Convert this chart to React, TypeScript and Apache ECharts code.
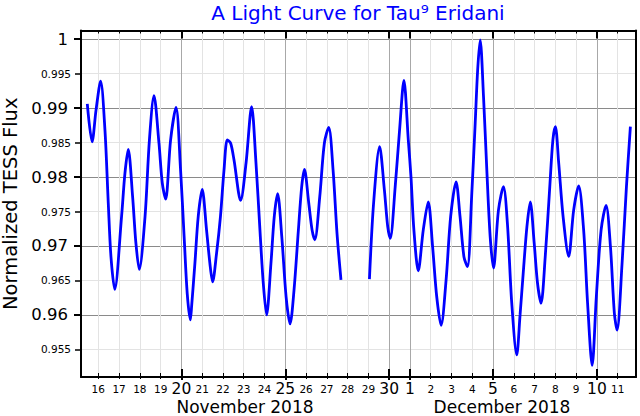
import React, { useEffect, useRef } from "react";
import * as echarts from "echarts";

// Time in days counted from 0 November 2018 (Nov 30 = 30, Dec 1 = 31, Dec 11 = 41)
const dayTimes: number[] = [
  15.47, 15.7, 15.89, 16.11, 16.32, 16.48, 16.61, 16.79, 17.12, 17.28, 17.44, 17.65, 17.81, 17.97,
  18.25, 18.46, 18.68, 18.92, 19.08, 19.24, 19.48, 19.74, 19.96, 20.13, 20.28, 20.43, 20.49, 20.65,
  20.81, 21.0, 21.21, 21.37, 21.5, 21.69, 21.88, 22.05, 22.21, 22.37, 22.53, 22.85, 23.11, 23.38,
  23.59, 23.78, 23.94, 24.1, 24.31, 24.47, 24.63, 24.83, 25.04, 25.23, 25.42, 25.63, 25.79, 25.92,
  26.13, 26.29, 26.42, 26.66, 26.88, 27.09, 27.3, 27.49, 27.68,
  28.4,
  29.05, 29.25, 29.54, 29.77, 29.93, 30.05, 30.29, 30.5, 30.71, 30.92, 31.05, 31.19, 31.4, 31.64,
  31.88, 32.09, 32.29, 32.5, 32.74, 32.96, 33.22, 33.41, 33.6, 33.77, 33.97, 34.14, 34.26, 34.38,
  34.54, 34.7, 34.86, 35.02, 35.26, 35.5, 35.69, 35.9, 36.14, 36.3, 36.45, 36.63, 36.79, 36.98,
  37.14, 37.31, 37.51, 37.72, 37.88, 38.0, 38.16, 38.37, 38.64, 38.88, 39.12, 39.36, 39.55, 39.77,
  39.97, 40.2, 40.44, 40.65, 40.84, 40.97, 41.21, 41.42, 41.61,
];

// Normalized TESS flux (null = data gap)
const fluxValues: (number | null)[] = [
  0.9906, 0.9851, 0.9897, 0.9939, 0.9868, 0.9762, 0.9684, 0.9637, 0.9743, 0.9805, 0.984, 0.9772, 0.9704, 0.9666,
  0.9743, 0.9854, 0.9918, 0.9849, 0.9791, 0.9768, 0.9854, 0.9901, 0.981, 0.9714, 0.9631, 0.9593, 0.9612, 0.9675,
  0.9743, 0.9782, 0.9723, 0.9675, 0.9648, 0.9689, 0.9743, 0.981, 0.9854, 0.9849, 0.9825, 0.9766, 0.982, 0.9902,
  0.982, 0.9723, 0.9646, 0.96, 0.9675, 0.9743, 0.9776, 0.9714, 0.9626, 0.9587, 0.9636, 0.9723, 0.9786, 0.9811,
  0.9762, 0.9723, 0.9709, 0.9772, 0.9849, 0.9872, 0.981, 0.9718, 0.9651,
  null,
  0.9652, 0.9762, 0.9844, 0.9781, 0.9728, 0.9711, 0.9786, 0.9868, 0.994, 0.9854, 0.98, 0.9723, 0.9664, 0.9723,
  0.9764, 0.9699, 0.9626, 0.9585, 0.9651, 0.9743, 0.9793, 0.9743, 0.9684, 0.967, 0.9772, 0.9878, 0.9956, 0.9999,
  0.9917, 0.981, 0.9714, 0.9668, 0.9752, 0.9786, 0.9733, 0.9617, 0.9542, 0.96, 0.966, 0.9728, 0.9764, 0.9704,
  0.9646, 0.9617, 0.9684, 0.9781, 0.9854, 0.9873, 0.982, 0.9743, 0.9685, 0.9752, 0.9787, 0.9723, 0.9617, 0.9527,
  0.9626, 0.9723, 0.9759, 0.9699, 0.9602, 0.9578, 0.9675, 0.9786, 0.9873,
];

const minorDays = [16, 17, 18, 19, 21, 22, 23, 24, 26, 27, 28, 29, 32, 33, 34, 36, 37, 38, 39, 41];
const majorDays = [20, 25, 30, 31, 35, 40];
const monthPositions = [23.06, 35.43];
const monthNames = ["November 2018", "December 2018"];
const minorFluxTicks = [0.955, 0.965, 0.975, 0.985, 0.995];
const majorFluxTicks = [0.96, 0.97, 0.98, 0.99, 1];

const FONT = "DejaVu Sans";
const X_MIN = 15.167;
const X_MAX = 41.88;
const Y_MIN = 0.951;
const Y_MAX = 1.00125;

const dayLabel = (v: number) => String(Math.round(v > 30.5 ? v - 30 : v));

export default function App() {
  const ref = useRef<HTMLDivElement>(null);
  useEffect(() => {
    const chart = echarts.init(ref.current!, null, { renderer: "svg" });
    const gridRect = { left: 81, right: 4, top: 30.5, bottom: 39, containLabel: false, outerBoundsMode: "none" };
    const hidden = {
      axisLine: { show: false },
      axisTick: { show: false },
      axisLabel: { show: false },
      splitLine: { show: false },
    };
    const xBase = (g: number, pos: string) => ({
      type: "value", gridIndex: g, position: pos, min: X_MIN, max: X_MAX, ...hidden,
    });
    const yBase = (g: number, pos: string) => ({
      type: "value", gridIndex: g, position: pos, min: Y_MIN, max: Y_MAX, ...hidden,
    });
    const black = { color: "#000", width: 2 };
    const txt = (size: number) => ({ fontSize: size, fontFamily: FONT, color: "#000" });

    const xAxis: any[] = [
      {
        ...xBase(0, "bottom"),
        axisLine: { show: true, onZero: false, lineStyle: black },
        axisTick: { show: true, inside: true, length: 4, customValues: minorDays, lineStyle: { color: "#000", width: 1 } },
        axisLabel: { show: true, customValues: minorDays, formatter: dayLabel, margin: 6, ...txt(10.5) },
        splitLine: { show: true, lineStyle: { color: "#e3e3e3", width: 1 } },
      },
      {
        ...xBase(0, "top"),
        axisLine: { show: true, onZero: false, lineStyle: black },
        axisTick: { show: true, inside: true, length: 3, customValues: minorDays, lineStyle: { color: "#000", width: 1 } },
      },
      {
        ...xBase(1, "bottom"),
        axisTick: { show: true, inside: true, length: 8, customValues: majorDays, lineStyle: { color: "#000", width: 2 } },
        axisLabel: { show: true, customValues: majorDays, formatter: dayLabel, margin: 4, lineHeight: 15, ...txt(15.5) },
        splitLine: { show: true, lineStyle: { color: "#a8a8a8", width: 1 } },
      },
      {
        ...xBase(1, "top"),
        axisTick: { show: true, inside: true, length: 8, customValues: majorDays, lineStyle: { color: "#000", width: 2 } },
      },
      {
        ...xBase(2, "bottom"),
        axisTick: { show: true, inside: false, length: 2, customValues: minorDays, lineStyle: { color: "#000", width: 1 } },
        axisLabel: {
          show: true,
          customValues: monthPositions,
          formatter: (v: number) => {
            let best = 0;
            monthPositions.forEach((p, i) => {
              if (Math.abs(p - v) < Math.abs(monthPositions[best] - v)) best = i;
            });
            return monthNames[best];
          },
          margin: 21.5,
          lineHeight: 17,
          ...txt(17),
        },
      },
      {
        ...xBase(3, "bottom"),
        axisTick: { show: true, inside: false, length: 3, customValues: majorDays, lineStyle: { color: "#000", width: 2 } },
      },
    ];

    const yAxis: any[] = [
      {
        ...yBase(0, "left"),
        axisLine: { show: true, onZero: false, lineStyle: black },
        axisTick: { show: true, inside: false, length: 6, customValues: minorFluxTicks, lineStyle: { color: "#000", width: 1.5 } },
        axisLabel: { show: true, customValues: minorFluxTicks, formatter: (v: number) => v.toFixed(3), margin: 10, ...txt(10.5) },
        splitLine: { show: true, lineStyle: { color: "#e3e3e3", width: 1 } },
      },
      {
        ...yBase(0, "right"),
        axisLine: { show: true, onZero: false, lineStyle: black },
      },
      {
        ...yBase(1, "left"),
        axisTick: { show: true, inside: false, length: 7, customValues: majorFluxTicks, lineStyle: { color: "#000", width: 2 } },
        axisLabel: {
          show: true,
          customValues: majorFluxTicks,
          formatter: (v: number) => (v > 0.9999 ? "1" : v.toFixed(2)),
          margin: 13,
          ...txt(16.5),
        },
        splitLine: { show: true, lineStyle: { color: "#8a8a8a", width: 1 } },
        name: "Normalized TESS Flux",
        nameLocation: "middle",
        nameRotate: 90,
        nameGap: 56,
        nameTextStyle: txt(19.5),
      },
      { ...yBase(1, "right") },
      { ...yBase(2, "left") },
      { ...yBase(3, "left") },
    ];

    const data = dayTimes.map((t, i) => [t, fluxValues[i] == null ? "-" : fluxValues[i]]);

    chart.setOption({
      animation: false,
      backgroundColor: "#fff",
      title: {
        text: "A Light Curve for Tau⁹ Eridani",
        left: 358,
        top: 3,
        padding: 0,
        textAlign: "center",
        textStyle: { color: "#0000ff", fontSize: 20, fontWeight: "normal", fontFamily: FONT },
      },
      grid: [gridRect, gridRect, gridRect, gridRect],
      xAxis,
      yAxis,
      series: [
        {
          type: "line",
          xAxisIndex: 0,
          yAxisIndex: 0,
          data,
          showSymbol: false,
          smooth: 0.3,
          connectNulls: false,
          lineStyle: { color: "#0000ff", width: 2.8 },
          z: 5,
        },
      ],
    });
    return () => chart.dispose();
  }, []);
  return (
    <div
      ref={ref}
      style={{ position: "fixed", left: 0, top: 0, width: 640, height: 416, background: "#fff" }}
    />
  );
}
